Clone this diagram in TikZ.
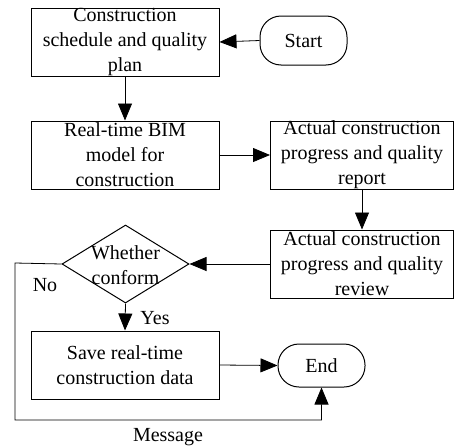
\documentclass[tikz,border=0pt]{standalone}
\usepackage{fontspec}
\setmainfont{Liberation Serif}
\usetikzlibrary{shapes.geometric,arrows.meta}
\begin{document}
\begin{tikzpicture}[x=1pt,y=-1pt,
  every node/.style={font=\fontsize{20}{25}\selectfont},
  box/.style={draw,line width=1pt,align=center,inner xsep=2pt,inner ysep=-5pt,minimum height=68pt},
  term/.style={draw,line width=1pt,rounded corners=21pt,minimum width=87pt},
  conn/.style={line width=0.8pt,-{Triangle[length=17pt,width=14pt]}},
  plain/.style={line width=1pt}]
\useasboundingbox (0,0) rectangle (454,447);
\node[box,minimum width=188pt] (b1) at (125,42) {Construction\\schedule and quality\\plan};
\node[term,minimum height=49pt] (start) at (303.5,40.5) {Start};
\node[box,minimum width=188pt] (b2) at (125,155) {Real-time BIM\\model for\\construction};
\node[box,minimum width=183pt] (b3) at (362,155) {Actual construction\\progress and quality\\report};
\node[box,minimum width=183pt] (b4) at (362,264) {Actual construction\\progress and quality\\review};
\node[draw,line width=1pt,diamond,minimum width=127pt,minimum height=78pt,inner sep=0pt] (d) at (125.5,264) {};
\node[align=center,inner sep=0pt] (dt) at (125.5,265) {Whether\\conform};
\node[box,minimum width=188pt] (b5) at (125,365) {Save real-time\\construction data};
\node[term,minimum height=43pt] (end) at (321.5,365.5) {End};
\coordinate (c1) at (15,263);
\coordinate (c2) at (15,420);
\coordinate (c3) at (321.5,420);
\draw[conn] (start.west) -- (b1.east);
\draw[conn] (b1.south) -- (b2.north);
\draw[conn] (b2.east) -- (b3.west);
\draw[conn] (b3.south) -- (b4.north);
\draw[conn] (b4.west) -- (d.east);
\draw[conn] (d.south) -- (b5.north);
\draw[conn] (b5.east) -- (end.west);
\draw[conn] (d.west) -- (c1) -- (c2) -- (c3) -- (end.south);
\node (no) at (45,285) {No};
\node (yes) at (155,318) {Yes};
\node (msg) at (168,437) {Message};
\end{tikzpicture}
\end{document}
